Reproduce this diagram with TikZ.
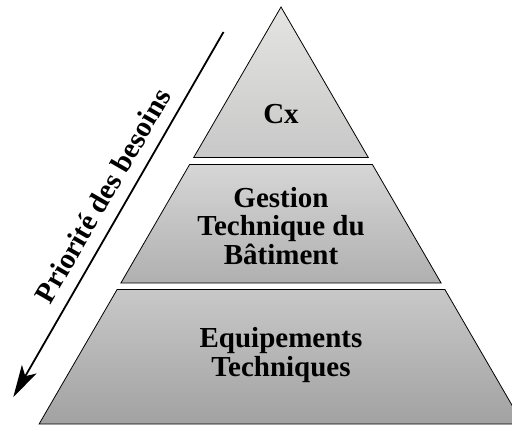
\documentclass[tikz,border=0pt]{standalone}
\usepackage{fontspec}
\setmainfont{Liberation Serif}
\usetikzlibrary{arrows.meta}
\definecolor{t1}{HTML}{E4E4E2}
\definecolor{b1}{HTML}{C8C8C8}
\definecolor{t2}{HTML}{D6D6D6}
\definecolor{b2}{HTML}{B0B0B0}
\definecolor{t3}{HTML}{C8C8C8}
\definecolor{b3}{HTML}{A2A2A2}
\begin{document}
\begin{tikzpicture}[x=1pt,y=-1pt,
  layer/.style={draw=black,line width=0.8pt,shading angle=-45},
  lbl/.style={font=\bfseries\fontsize{29}{28.5}\selectfont,align=center,inner sep=0pt,anchor=base},
  prio/.style={font=\bfseries\fontsize{29}{30}\selectfont,inner sep=0pt,rotate=60}]
\useasboundingbox (0,0) rectangle (512,426);
\begin{scope}
\clip (0,0) rectangle (512,426);
\shade[layer,top color=t1,bottom color=b1] (281,7)--(368.3,157.5)--(193.7,157.5)--cycle;
\shade[layer,top color=t2,bottom color=b2] (189.6,164.5)--(372.4,164.5)--(441.1,283)--(120.9,283)--cycle;
\shade[layer,top color=t3,bottom color=b3] (117.1,289.5)--(444.9,289.5)--(522.9,424)--(39.1,424)--cycle;
\end{scope}
\node[lbl] (cx) at (281,123) {Cx};
\node[lbl] (gtb) at (281,264) {Gestion\\Technique du\\Bâtiment};
\node[lbl] (et) at (281,376) {Equipements\\Techniques};
\coordinate (as) at (223.5,32);
\coordinate (ae) at (13.3,397);
\draw[line width=1.8pt,-{Stealth[length=32pt,width=17pt,inset=8pt]}] (as) -- (ae);
\node[prio] (pr) at (102.7,195.7) {Priorité des besoins};
\end{tikzpicture}
\end{document}
